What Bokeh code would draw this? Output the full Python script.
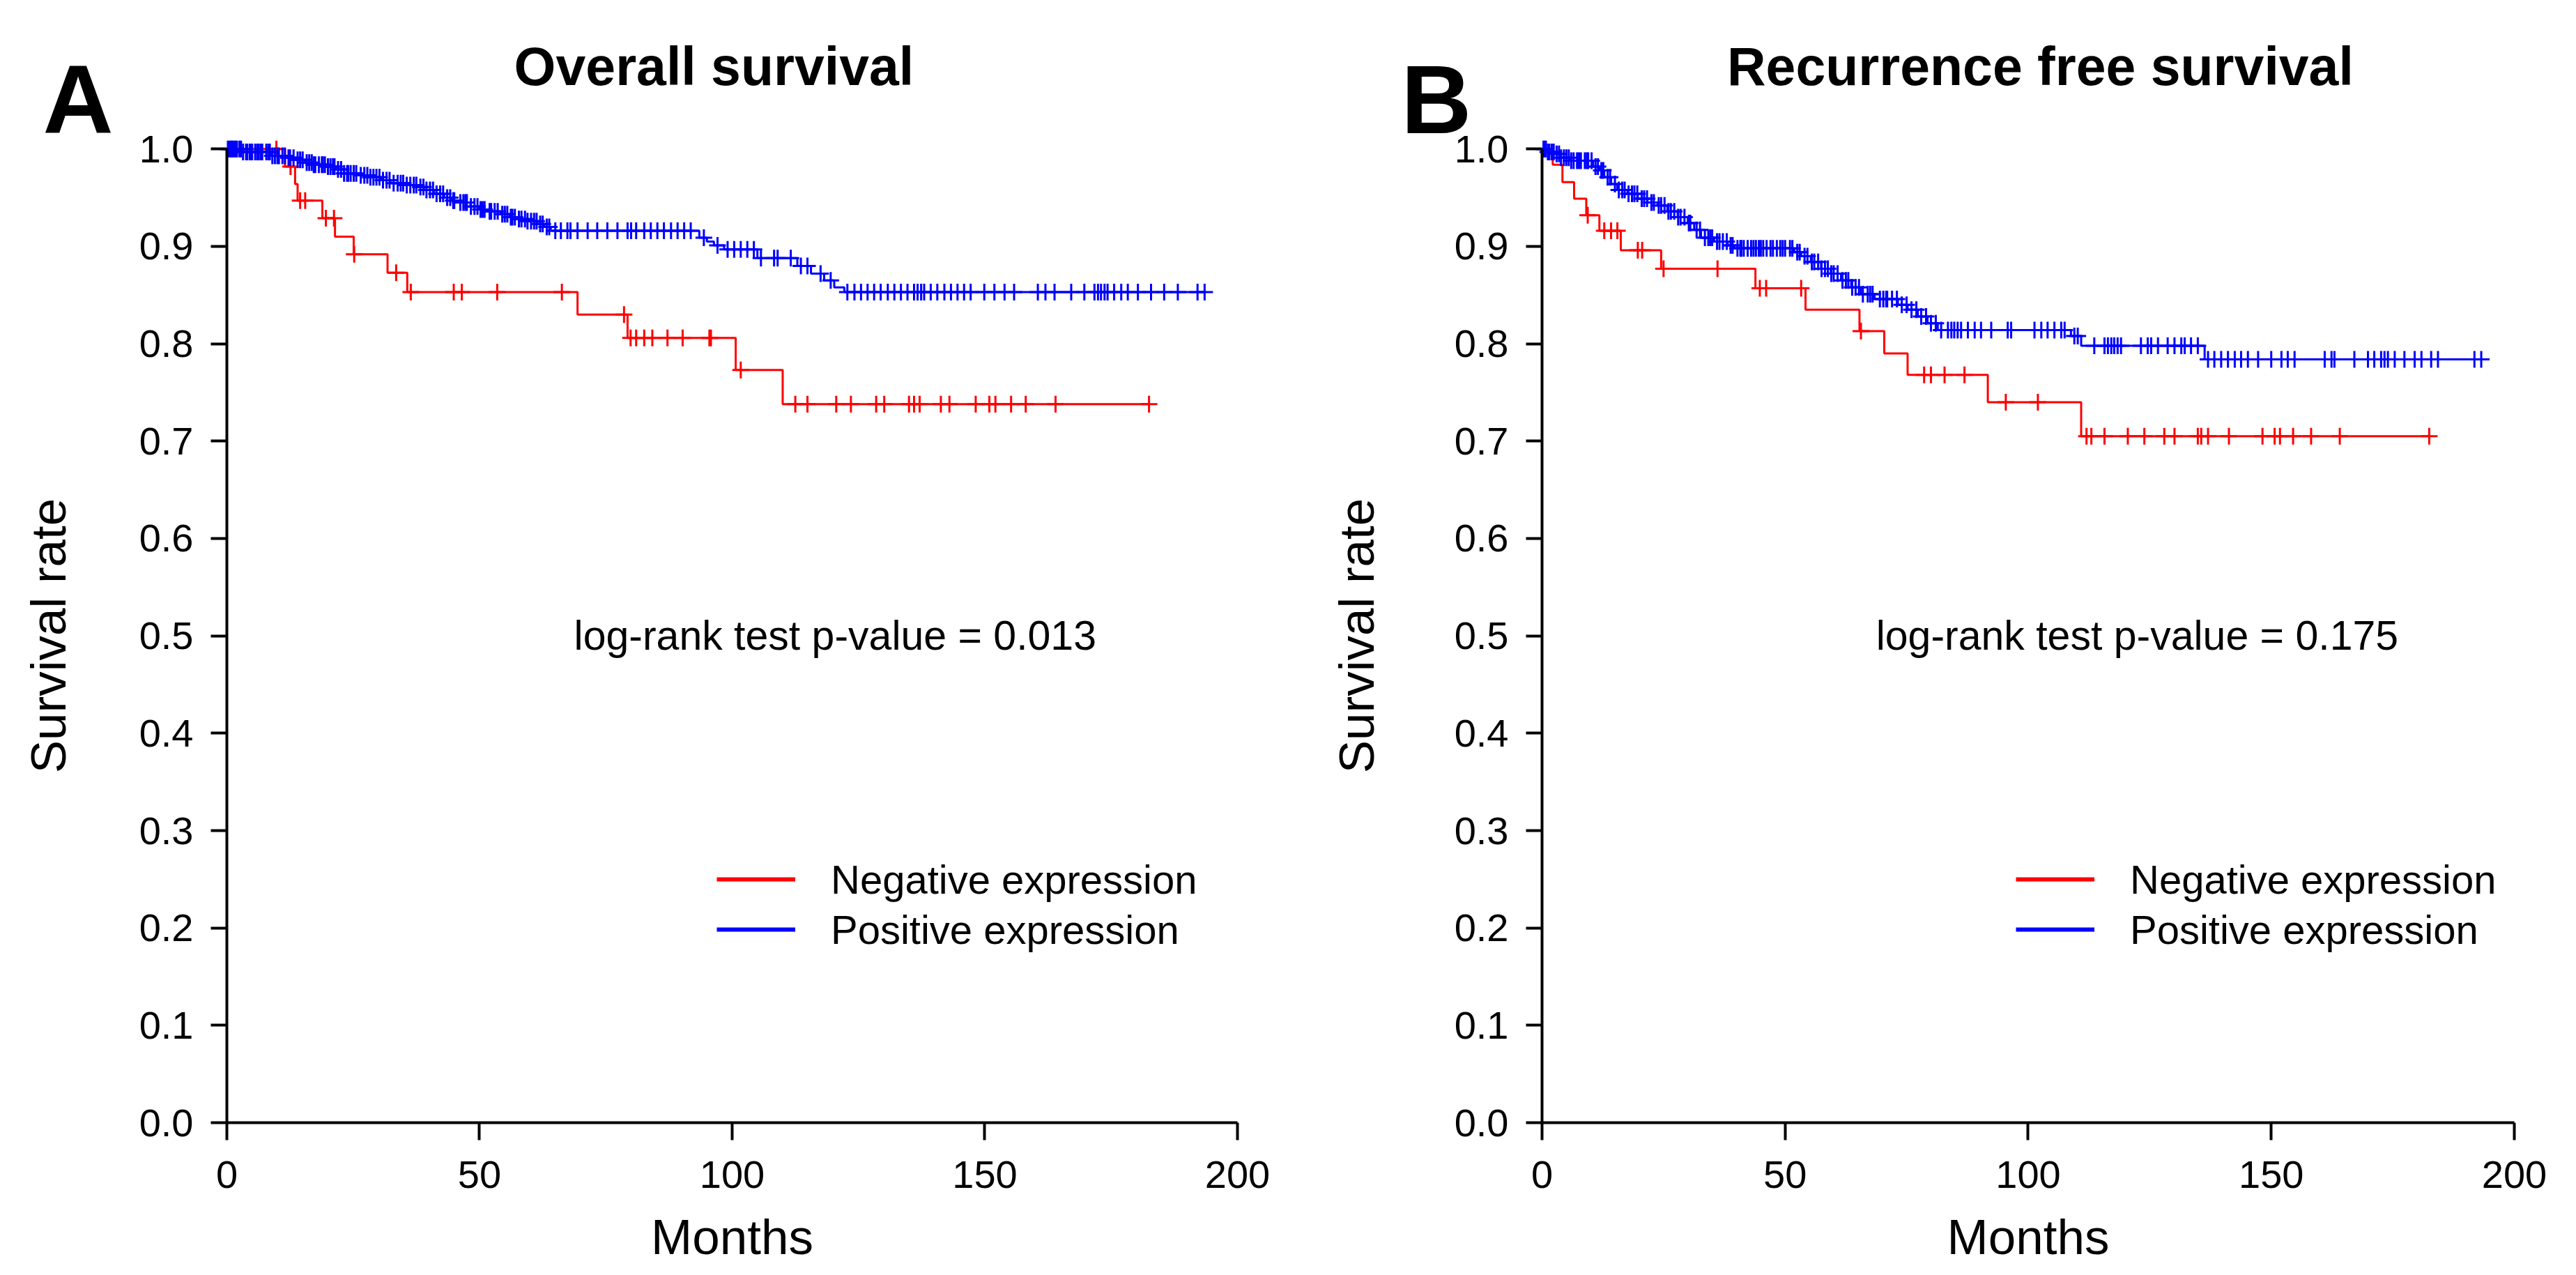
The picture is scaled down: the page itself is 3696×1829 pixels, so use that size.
import numpy as np
from bokeh.plotting import figure
from bokeh.layouts import row
from bokeh.models import (FixedTicker, PrintfTickFormatter, Label, Legend,
                          LegendItem)
from bokeh.embed import file_html
from bokeh.resources import INLINE

# ---------------- Panel A : Overall survival ----------------
os_neg_event_t = [11.5, 13.5, 14.0, 18.9, 21.4, 25.1, 31.8, 35.7, 69.4, 79.3, 100.7, 110.0]
os_neg_event_s = [0.982, 0.964, 0.947, 0.929, 0.910, 0.892, 0.873, 0.853, 0.830, 0.806, 0.773, 0.738]
os_neg_end = 182.5
os_neg_cens = [9.8, 12.6, 14.5, 15.5, 19.6, 21.2, 25.2, 33.5, 36.4, 44.9, 46.5, 53.5,
               66.3, 78.6, 79.9, 81.0, 82.6, 84.2, 87.2, 90.2, 95.5, 95.8, 101.7,
               112.5, 114.9, 120.6, 123.5, 128.5, 130.1, 135.0, 136.0, 137.1, 141.3,
               143.0, 148.2, 150.9, 152.1, 155.2, 158.1, 164.0, 182.5]

os_pos_event_t = [3.0, 8.7, 12.0, 13.9, 15.5, 17.0, 19.9, 21.5, 23.2, 26.0, 28.4, 30.5,
                  32.4, 35.0, 37.7, 39.0, 41.0, 43.0, 44.5, 45.6, 48.2, 50.0, 51.5,
                  54.2, 56.0, 57.5, 59.5, 61.4, 62.8, 64.1, 93.5, 95.0, 96.4, 98.4,
                  105.0, 112.9, 115.6, 118.2, 120.2, 122.2]
os_pos_event_s = [0.997, 0.993, 0.991, 0.989, 0.986, 0.984, 0.982, 0.979, 0.975, 0.973,
                  0.971, 0.968, 0.965, 0.963, 0.961, 0.958, 0.954, 0.950, 0.947, 0.945,
                  0.941, 0.938, 0.936, 0.933, 0.930, 0.928, 0.926, 0.923, 0.920, 0.916,
                  0.909, 0.905, 0.901, 0.897, 0.888, 0.880, 0.872, 0.865, 0.858, 0.853]
os_pos_end = 193.5
os_pos_cens = [0.2, 0.5, 0.8, 1.0, 1.2, 1.5, 1.8, 2.0, 2.5, 2.8, 3.2, 3.8, 4.0, 4.5, 4.8,
               5.0, 5.6, 6.0, 6.3, 6.7, 7.0, 7.8, 8.2, 8.5, 9.0, 9.5, 10.0, 10.3, 11.0,
               11.5, 12.2, 12.5, 13.2, 14.0, 14.5, 15.0, 15.8, 16.3, 16.8, 17.2, 17.5,
               18.2, 18.8, 19.0, 19.4, 20.0, 20.5, 21.0, 21.3, 22.0, 22.6, 23.2, 23.8,
               24.0, 24.5, 25.1, 25.6, 26.5, 27.2, 27.8, 28.4, 29.0, 29.6, 30.2, 30.9,
               31.6, 32.2, 33.0, 33.8, 34.4, 34.9, 35.6, 36.3, 37.0, 37.5, 38.3, 38.9,
               39.5, 40.2, 40.8, 41.5, 42.2, 42.8, 43.6, 44.2, 44.8, 45.0, 46.2, 46.8,
               47.2, 47.5, 48.3, 49.0, 49.6, 50.2, 50.6, 51.0, 52.0, 52.3, 53.0, 53.6,
               54.5, 55.0, 55.5, 56.2, 56.5, 57.0, 57.8, 58.3, 59.0, 59.5, 60.2, 60.8,
               61.3, 62.0, 62.5, 63.3, 63.8,
               65.0, 66.1, 67.4, 68.0, 69.4, 71.4, 73.3, 75.3, 77.3, 79.3, 80.0, 81.0,
               82.6, 83.9, 85.2, 86.5, 87.9, 89.2, 90.5, 91.8, 94.4, 97.1, 99.1, 100.4,
               101.7, 103.0, 104.3, 105.7, 108.3, 109.0, 111.6, 113.6, 114.9, 117.5,
               119.5, 122.8, 124.2, 125.5, 126.8, 128.1, 129.4, 130.8, 132.1, 133.4,
               134.7, 136.0, 136.7, 137.4, 138.0, 139.3, 140.6, 142.0, 143.3, 144.6,
               145.9, 147.2, 149.9, 151.9, 153.9, 155.8, 160.5, 162.0, 163.8, 167.1,
               169.7, 171.7, 172.4, 173.0, 173.7, 174.3, 175.6, 177.0, 178.3, 180.3,
               182.9, 185.5, 188.2, 192.1, 193.5]

# ---------------- Panel B : Recurrence free survival ----------------
rfs_neg_event_t = [2.2, 4.2, 6.6, 9.1, 11.8, 16.2, 24.5, 43.9, 54.2, 65.3, 70.4, 75.2, 91.7, 110.9]
rfs_neg_event_s = [0.984, 0.966, 0.949, 0.932, 0.916, 0.896, 0.877, 0.857, 0.835, 0.813,
                   0.790, 0.768, 0.740, 0.705]
rfs_neg_end = 182.5
rfs_neg_cens = [9.4, 12.8, 14.2, 15.5, 19.7, 20.6, 25.0, 36.1, 44.8, 46.1, 53.3, 65.6,
                78.6, 80.0, 82.8, 86.9, 95.4, 102.0, 112.0, 113.0, 115.7, 120.5, 123.9,
                128.0, 130.1, 134.9, 135.6, 137.0, 141.3, 148.2, 150.7, 151.8, 154.5,
                158.2, 164.1, 182.5]

rfs_pos_event_t = [1.1, 2.5, 3.9, 5.9, 10.5, 11.8, 12.8, 14.2, 15.5, 17.6, 19.7, 21.7,
                   23.8, 25.8, 27.9, 30.0, 31.3, 32.7, 35.4, 38.2, 39.5, 51.9, 53.3,
                   55.3, 57.4, 59.4, 61.5, 63.6, 65.6, 68.4, 73.2, 75.2, 77.3, 79.3,
                   81.4, 108.8, 110.9, 136.3]
rfs_pos_event_s = [0.997, 0.995, 0.991, 0.988, 0.982, 0.978, 0.971, 0.964, 0.958, 0.954,
                   0.949, 0.945, 0.942, 0.936, 0.930, 0.924, 0.917, 0.909, 0.905, 0.901,
                   0.898, 0.894, 0.890, 0.884, 0.877, 0.872, 0.865, 0.858, 0.851, 0.846,
                   0.840, 0.835, 0.828, 0.821, 0.814, 0.808, 0.798, 0.784]
rfs_pos_end = 193.2
rfs_pos_cens = [0.3, 0.5, 0.8, 1.2, 1.5, 2.0, 2.4, 3.0, 3.5, 3.9, 4.5, 5.0, 5.5, 6.0,
                6.5, 7.2, 7.6, 8.0, 8.8, 9.2, 9.5, 10.2, 11.0, 11.5, 12.2, 12.6, 13.5,
                14.0, 15.0, 15.8, 16.5, 17.0, 17.8, 18.5, 19.0, 19.6, 20.5, 21.0, 21.6,
                22.5, 23.0, 24.0, 24.5, 25.2, 26.0, 26.5, 27.2, 28.0, 28.5, 29.3, 30.2,
                30.5, 31.8, 32.5, 33.5, 34.2, 34.6, 35.0, 36.0, 36.5, 37.2, 38.0, 38.8,
                39.2, 40.2, 40.8, 41.0, 41.5, 42.3, 43.0, 43.5, 44.0, 44.6, 45.0, 45.5,
                46.2, 47.0, 47.5, 48.3, 49.0, 49.5, 50.0, 51.0, 51.5, 52.5, 53.0, 54.0,
                54.6, 55.5, 56.0, 56.8, 57.5, 58.2, 58.8, 59.5, 60.0, 60.8, 61.8, 62.5,
                63.0, 63.8, 64.5, 65.2, 66.0, 67.0, 67.5, 68.0, 69.5, 70.2, 70.8, 71.0,
                72.0, 73.0, 74.0, 75.0, 76.0, 77.0, 78.0, 79.0, 80.0, 81.0,
                82.1, 83.5, 84.2, 84.8, 85.5, 86.2, 87.6, 89.0, 90.3, 92.4,
                95.8, 96.5, 101.3, 102.7, 104.0, 105.4, 106.8, 107.5, 109.5, 110.2,
                113.6, 115.7, 116.4, 117.1, 117.7, 118.4, 119.1, 123.2, 124.6, 125.3,
                126.7, 128.7, 130.1, 131.5, 132.2, 133.5, 134.9, 137.0, 138.3, 139.7,
                141.1, 142.5, 143.8, 145.2, 147.3, 150.0, 152.1, 153.4, 154.8, 161.0,
                162.4, 163.0, 167.1, 169.9, 171.2, 172.6, 173.3, 174.0, 175.4, 177.4,
                179.5, 180.9, 182.9, 184.3, 191.8, 193.2]

group_labels = ["Negative expression", "Positive expression"]
group_colors = ["#FF0000", "#0000FF"]
x_ticks = [0, 50, 100, 150, 200]
y_ticks = [0.0, 0.1, 0.2, 0.3, 0.4, 0.5, 0.6, 0.7, 0.8, 0.9, 1.0]

FONT = "Liberation Sans"
W, H = 1840, 1813
Y_RANGE = (-0.1453, 1.1527)


def surv_at(t_events, s_events, times):
    t = np.asarray(t_events)
    s = np.concatenate([[1.0], np.asarray(s_events)])
    idx = np.searchsorted(t, np.asarray(times), side="right")
    return s[idx]


def make_panel(title, letter, curves, pvalue, x_range, title_x, letter_x,
               ylabel_standoff, legend_loc):
    p = figure(width=W, height=H, output_backend="svg", toolbar_location=None,
               x_range=x_range, y_range=Y_RANGE, min_border=0,
               min_border_left=0, min_border_right=0, min_border_top=0,
               min_border_bottom=0)
    p.title.visible = False
    p.xgrid.visible = False
    p.ygrid.visible = False
    p.outline_line_color = None
    p.background_fill_color = "white"
    p.border_fill_color = "white"

    for ax in (p.xaxis[0], p.yaxis[0]):
        ax.fixed_location = 0
        ax.axis_line_width = 4
        ax.axis_line_color = "black"
        ax.major_tick_line_width = 4
        ax.major_tick_line_color = "black"
        ax.major_tick_in = 0
        ax.minor_tick_line_color = None
        ax.major_label_text_font = FONT
        ax.major_label_text_font_size = "56px"
        ax.major_label_text_color = "black"
        ax.axis_label_text_font = FONT
        ax.axis_label_text_font_size = "71px"
        ax.axis_label_text_font_style = "normal"
        ax.axis_label_text_color = "black"

    p.xaxis.ticker = FixedTicker(ticks=x_ticks)
    p.xaxis.bounds = (0, 200)
    p.xaxis.major_tick_out = 25
    p.xaxis.major_label_standoff = 30
    p.xaxis.axis_label = "Months"
    p.xaxis.axis_label_standoff = 28

    p.yaxis.ticker = FixedTicker(ticks=y_ticks)
    p.yaxis.formatter = PrintfTickFormatter(format="%.1f")
    p.yaxis.bounds = (0, 1)
    p.yaxis.major_tick_out = 23
    p.yaxis.major_label_standoff = 25
    p.yaxis.major_label_orientation = "horizontal"
    p.yaxis.axis_label = "Survival rate"
    p.yaxis.axis_label_standoff = ylabel_standoff

    items = []
    for (t_ev, s_ev, end, cens), lab, col in zip(curves, group_labels, group_colors):
        xs = [0.0] + list(t_ev) + [end]
        ys = [1.0] + list(s_ev) + [s_ev[-1]]
        p.step(xs, ys, mode="after", line_color=col, line_width=3)
        cy = surv_at(t_ev, s_ev, cens)
        p.scatter(list(cens), list(cy), marker="cross", size=24, line_width=3,
                  line_color=col)
        proxy = p.line(x=[np.nan], y=[np.nan], line_color=col, line_width=6)
        items.append(LegendItem(label=lab, renderers=[proxy]))

    leg = Legend(items=items, location=legend_loc, glyph_width=113, glyph_height=72,
                 label_height=72, spacing=0, padding=0, margin=0, label_standoff=51,
                 label_text_font=FONT, label_text_font_size="58px",
                 label_text_color="black", border_line_color=None,
                 background_fill_alpha=0)
    p.add_layout(leg)

    p.add_layout(Label(x=title_x, y=1.0854, text=title, text_font=FONT,
                       text_font_size="77px", text_font_style="bold",
                       text_color="black", text_align="center",
                       text_baseline="alphabetic"))
    p.add_layout(Label(x=letter_x, y=1.0511, text=letter, text_font=FONT,
                       text_font_size="140px", text_font_style="bold",
                       text_color="black", text_align="left",
                       text_baseline="alphabetic"))
    p.add_layout(Label(x=68.7, y=0.5, text="log-rank test p-value = " + pvalue,
                       text_font=FONT, text_font_size="59px", text_color="black",
                       text_baseline="middle", text_align="left"))
    return p


pa = make_panel("Overall survival", "A",
                [(os_neg_event_t, os_neg_event_s, os_neg_end, os_neg_cens),
                 (os_pos_event_t, os_pos_event_s, os_pos_end, os_pos_cens)],
                "0.013", x_range=(-44.83, 208.97), title_x=96.4, letter_x=-36.4,
                ylabel_standoff=88, legend_loc=(1028, 444))
pb = make_panel("Recurrence free survival", "B",
                [(rfs_neg_event_t, rfs_neg_event_s, rfs_neg_end, rfs_neg_cens),
                 (rfs_pos_event_t, rfs_pos_event_s, rfs_pos_end, rfs_pos_cens)],
                "0.175", x_range=(-53.33, 210.47), title_x=102.5, letter_x=-29.0,
                ylabel_standoff=98, legend_loc=(1052, 444))

layout = row(pa, pb)
open("out.html", "w").write(file_html(layout, INLINE))
